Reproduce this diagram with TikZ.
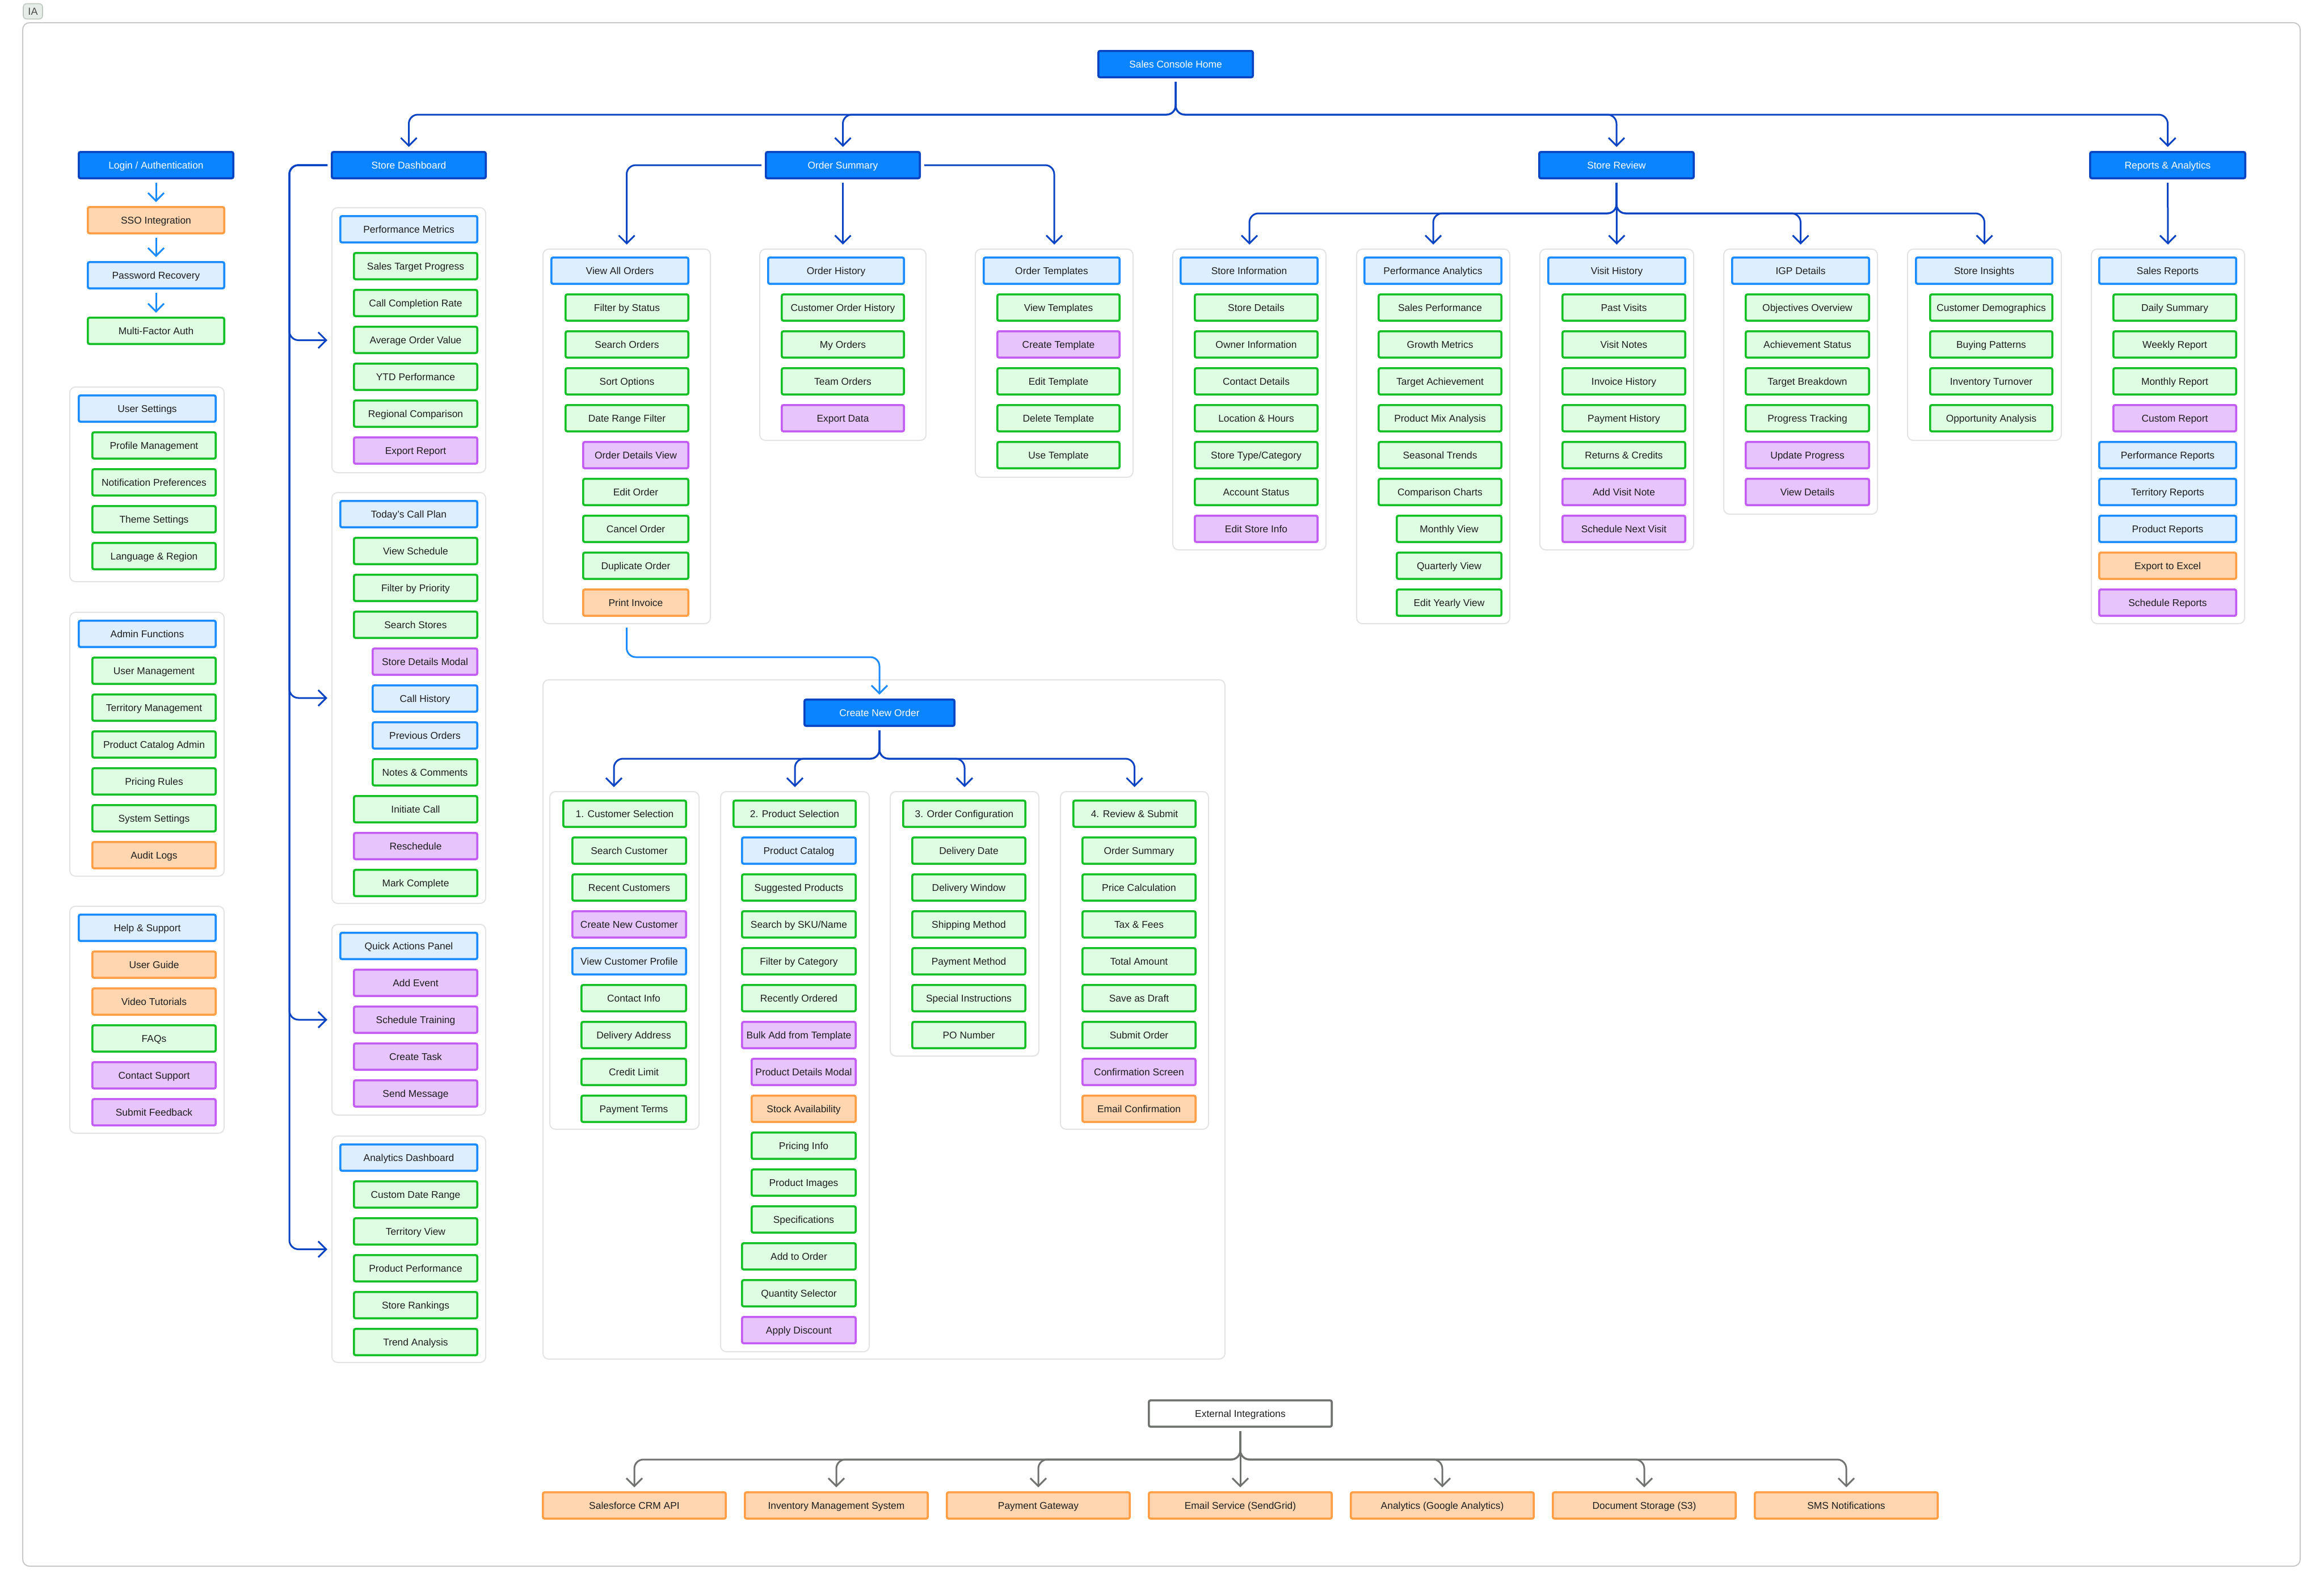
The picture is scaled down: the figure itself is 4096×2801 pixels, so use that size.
\documentclass[tikz,border=0pt]{standalone}
\usepackage{fontspec}
\setmainfont{Liberation Sans}
\usetikzlibrary{arrows.meta}
\definecolor{dkfill}{HTML}{0A84FF}
\definecolor{dkline}{HTML}{0B44C2}
\definecolor{lbfill}{HTML}{DDEEFF}
\definecolor{lbline}{HTML}{1A8CFF}
\definecolor{grfill}{HTML}{DFFDE3}
\definecolor{grline}{HTML}{14C026}
\definecolor{pufill}{HTML}{E8C4FD}
\definecolor{puline}{HTML}{C35CF2}
\definecolor{orfill}{HTML}{FFD6B0}
\definecolor{orline}{HTML}{FF9E45}
\definecolor{pnline}{HTML}{E3E3E3}
\definecolor{frline}{HTML}{C8C8C8}
\definecolor{gyline}{HTML}{707270}
\definecolor{txt}{HTML}{1E1E1E}
\definecolor{tagfill}{HTML}{E6ECE8}
\definecolor{tagline}{HTML}{BFC7C1}
\newcommand\mybox[6]{\node[#2, minimum width={(#4-#3)*0.5pt-1.8pt}] (#1) at ({(#3+#4)/2},{#5+25}) {#6};}
\newcommand\mypanel[5]{\node[panel, minimum width={(#3-#2)*0.5pt-1pt}, minimum height={(#5-#4)*0.5pt-1pt}] (#1) at ({(#2+#3)/2},{(#4+#5)/2}) {};}
\tikzset{
  box/.style={rectangle, rounded corners=1.5pt, line width=1.8pt, inner sep=0pt, minimum height=23.2pt, text height=6.2pt, text depth=0pt, font=\fontsize{8.7}{10}\selectfont, text=txt},
  dk/.style={box, fill=dkfill, draw=dkline, text=white},
  lb/.style={box, fill=lbfill, draw=lbline},
  gr/.style={box, fill=grfill, draw=grline},
  pu/.style={box, fill=pufill, draw=puline},
  og/.style={box, fill=orfill, draw=orline},
  wh/.style={box, fill=white, draw=gyline},
  panel/.style={rectangle, rounded corners=5pt, draw=pnline, line width=1pt, fill=white, inner sep=0pt},
  conn/.style={line width=1.5pt, draw=dkline, rounded corners=8pt, -{Straight Barb[length=7pt,width=14pt]}, shorten >=3.5pt, shorten <=3pt},
  connlb/.style={conn, draw=lbline},
  conngy/.style={conn, draw=gyline}
}
\begin{document}
\begin{tikzpicture}[x=0.5pt, y=-0.5pt]
\useasboundingbox (0,0) rectangle (4096,2801);
\draw[frline, line width=1pt, rounded corners=6pt] (40,40) rectangle (4054,2760);
\node[rectangle, rounded corners=3pt, fill=tagfill, draw=tagline, line width=0.8pt, minimum width=17pt, minimum height=13.5pt, inner sep=0pt, text=txt!80, font=\fontsize{9}{10}\selectfont] (ia) at (58,20) {IA};

% ---------- top ----------
\mybox{sch}{dk}{1934}{2210}{88}{Sales Console Home}

% ---------- login column ----------
\mybox{login}{dk}{137}{413}{266}{Login / Authentication}
\mybox{sso}{og}{153}{397}{363}{SSO Integration}
\mybox{pwd}{lb}{153}{397}{460}{Password Recovery}
\mybox{mfa}{gr}{153}{397}{558}{Multi-Factor Auth}

\mypanel{usp}{122}{396}{681}{1026}
\mybox{us0}{lb}{137}{382}{695}{User Settings}
\mybox{us1}{gr}{161}{382}{760}{Profile Management}
\mybox{us2}{gr}{161}{382}{825}{Notification Preferences}
\mybox{us3}{gr}{161}{382}{890}{Theme Settings}
\mybox{us4}{gr}{161}{382}{955}{Language \& Region}

\mypanel{afp}{122}{396}{1078}{1545}
\mybox{af0}{lb}{137}{382}{1092}{Admin Functions}
\mybox{af1}{gr}{161}{382}{1157}{User Management}
\mybox{af2}{gr}{161}{382}{1222}{Territory Management}
\mybox{af3}{gr}{161}{382}{1287}{Product Catalog Admin}
\mybox{af4}{gr}{161}{382}{1352}{Pricing Rules}
\mybox{af5}{gr}{161}{382}{1417}{System Settings}
\mybox{af6}{og}{161}{382}{1482}{Audit Logs}

\mypanel{hsp}{122}{396}{1596}{1998}
\mybox{hs0}{lb}{137}{382}{1610}{Help \& Support}
\mybox{hs1}{og}{161}{382}{1675}{User Guide}
\mybox{hs2}{og}{161}{382}{1740}{Video Tutorials}
\mybox{hs3}{gr}{161}{382}{1805}{FAQs}
\mybox{hs4}{pu}{161}{382}{1870}{Contact Support}
\mybox{hs5}{pu}{161}{382}{1935}{Submit Feedback}

% ---------- store dashboard ----------
\mybox{sd}{dk}{583}{858}{266}{Store Dashboard}
\mypanel{sdp1}{584}{857}{365}{834}
\mybox{pm0}{lb}{598}{843}{379}{Performance Metrics}
\mybox{pm1}{gr}{622}{843}{444}{Sales Target Progress}
\mybox{pm2}{gr}{622}{843}{509}{Call Completion Rate}
\mybox{pm3}{gr}{622}{843}{574}{Average Order Value}
\mybox{pm4}{gr}{622}{843}{639}{YTD Performance}
\mybox{pm5}{gr}{622}{843}{704}{Regional Comparison}
\mybox{pm6}{pu}{622}{843}{769}{Export Report}

\mypanel{sdp2}{584}{857}{867}{1593}
\mybox{cp0}{lb}{598}{843}{881}{Today's Call Plan}
\mybox{cp1}{gr}{622}{843}{946}{View Schedule}
\mybox{cp2}{gr}{622}{843}{1011}{Filter by Priority}
\mybox{cp3}{gr}{622}{843}{1076}{Search Stores}
\mybox{cp4}{pu}{655}{843}{1141}{Store Details Modal}
\mybox{cp5}{lb}{655}{843}{1206}{Call History}
\mybox{cp6}{lb}{655}{843}{1271}{Previous Orders}
\mybox{cp7}{gr}{655}{843}{1336}{Notes \& Comments}
\mybox{cp8}{gr}{622}{843}{1401}{Initiate Call}
\mybox{cp9}{pu}{622}{843}{1466}{Reschedule}
\mybox{cp10}{gr}{622}{843}{1531}{Mark Complete}

\mypanel{sdp3}{584}{857}{1628}{1966}
\mybox{qa0}{lb}{598}{843}{1642}{Quick Actions Panel}
\mybox{qa1}{pu}{622}{843}{1707}{Add Event}
\mybox{qa2}{pu}{622}{843}{1772}{Schedule Training}
\mybox{qa3}{pu}{622}{843}{1837}{Create Task}
\mybox{qa4}{pu}{622}{843}{1902}{Send Message}

\mypanel{sdp4}{584}{857}{2001}{2402}
\mybox{ad0}{lb}{598}{843}{2015}{Analytics Dashboard}
\mybox{ad1}{gr}{622}{843}{2080}{Custom Date Range}
\mybox{ad2}{gr}{622}{843}{2145}{Territory View}
\mybox{ad3}{gr}{622}{843}{2210}{Product Performance}
\mybox{ad4}{gr}{622}{843}{2275}{Store Rankings}
\mybox{ad5}{gr}{622}{843}{2340}{Trend Analysis}

% ---------- order summary ----------
\mybox{os}{dk}{1348}{1623}{266}{Order Summary}
\mypanel{vaop}{956}{1253}{438}{1100}
\mybox{va0}{lb}{970}{1215}{452}{View All Orders}
\mybox{va1}{gr}{995}{1215}{517}{Filter by Status}
\mybox{va2}{gr}{995}{1215}{582}{Search Orders}
\mybox{va3}{gr}{995}{1215}{647}{Sort Options}
\mybox{va4}{gr}{995}{1215}{712}{Date Range Filter}
\mybox{va5}{pu}{1026}{1215}{777}{Order Details View}
\mybox{va6}{gr}{1026}{1215}{842}{Edit Order}
\mybox{va7}{gr}{1026}{1215}{907}{Cancel Order}
\mybox{va8}{gr}{1026}{1215}{972}{Duplicate Order}
\mybox{va9}{og}{1026}{1215}{1037}{Print Invoice}

\mypanel{ohp}{1338}{1633}{438}{777}
\mybox{oh0}{lb}{1352}{1595}{452}{Order History}
\mybox{oh1}{gr}{1376}{1595}{517}{Customer Order History}
\mybox{oh2}{gr}{1376}{1595}{582}{My Orders}
\mybox{oh3}{gr}{1376}{1595}{647}{Team Orders}
\mybox{oh4}{pu}{1376}{1595}{712}{Export Data}

\mypanel{otp}{1718}{1998}{438}{842}
\mybox{ot0}{lb}{1732}{1975}{452}{Order Templates}
\mybox{ot1}{gr}{1756}{1975}{517}{View Templates}
\mybox{ot2}{pu}{1756}{1975}{582}{Create Template}
\mybox{ot3}{gr}{1756}{1975}{647}{Edit Template}
\mybox{ot4}{gr}{1756}{1975}{712}{Delete Template}
\mybox{ot5}{gr}{1756}{1975}{777}{Use Template}

% ---------- create new order ----------
\mypanel{cnop}{956}{2160}{1197}{2396}
\mybox{cno}{dk}{1416}{1684}{1231}{Create New Order}

\mypanel{csp}{968}{1233}{1394}{1991}
\mybox{cs0}{gr}{991}{1211}{1409}{1. Customer Selection}
\mybox{cs1}{gr}{1007}{1211}{1474}{Search Customer}
\mybox{cs2}{gr}{1007}{1211}{1539}{Recent Customers}
\mybox{cs3}{pu}{1007}{1211}{1604}{Create New Customer}
\mybox{cs4}{lb}{1007}{1211}{1669}{View Customer Profile}
\mybox{cs5}{gr}{1023}{1211}{1734}{Contact Info}
\mybox{cs6}{gr}{1023}{1211}{1799}{Delivery Address}
\mybox{cs7}{gr}{1023}{1211}{1864}{Credit Limit}
\mybox{cs8}{gr}{1023}{1211}{1929}{Payment Terms}

\mypanel{psp}{1269}{1533}{1394}{2383}
\mybox{ps0}{gr}{1291}{1510}{1409}{2. Product Selection}
\mybox{ps1}{lb}{1306}{1510}{1474}{Product Catalog}
\mybox{ps2}{gr}{1306}{1510}{1539}{Suggested Products}
\mybox{ps3}{gr}{1306}{1510}{1604}{Search by SKU/Name}
\mybox{ps4}{gr}{1306}{1510}{1669}{Filter by Category}
\mybox{ps5}{gr}{1306}{1510}{1734}{Recently Ordered}
\mybox{ps6}{pu}{1306}{1510}{1799}{Bulk Add from Template}
\mybox{ps7}{pu}{1323}{1510}{1864}{Product Details Modal}
\mybox{ps8}{og}{1323}{1510}{1929}{Stock Availability}
\mybox{ps9}{gr}{1323}{1510}{1994}{Pricing Info}
\mybox{ps10}{gr}{1323}{1510}{2059}{Product Images}
\mybox{ps11}{gr}{1323}{1510}{2124}{Specifications}
\mybox{ps12}{gr}{1306}{1510}{2189}{Add to Order}
\mybox{ps13}{gr}{1306}{1510}{2254}{Quantity Selector}
\mybox{ps14}{pu}{1306}{1510}{2319}{Apply Discount}

\mypanel{ocp}{1568}{1832}{1394}{1862}
\mybox{oc0}{gr}{1590}{1809}{1409}{3. Order Configuration}
\mybox{oc1}{gr}{1606}{1809}{1474}{Delivery Date}
\mybox{oc2}{gr}{1606}{1809}{1539}{Delivery Window}
\mybox{oc3}{gr}{1606}{1809}{1604}{Shipping Method}
\mybox{oc4}{gr}{1606}{1809}{1669}{Payment Method}
\mybox{oc5}{gr}{1606}{1809}{1734}{Special Instructions}
\mybox{oc6}{gr}{1606}{1809}{1799}{PO Number}

\mypanel{rsp}{1868}{2131}{1394}{1991}
\mybox{rs0}{gr}{1890}{2109}{1409}{4. Review \& Submit}
\mybox{rs1}{gr}{1906}{2109}{1474}{Order Summary}
\mybox{rs2}{gr}{1906}{2109}{1539}{Price Calculation}
\mybox{rs3}{gr}{1906}{2109}{1604}{Tax \& Fees}
\mybox{rs4}{gr}{1906}{2109}{1669}{Total Amount}
\mybox{rs5}{gr}{1906}{2109}{1734}{Save as Draft}
\mybox{rs6}{gr}{1906}{2109}{1799}{Submit Order}
\mybox{rs7}{pu}{1906}{2109}{1864}{Confirmation Screen}
\mybox{rs8}{og}{1906}{2109}{1929}{Email Confirmation}

% ---------- store review ----------
\mybox{sr}{dk}{2711}{2987}{266}{Store Review}
\mypanel{sip}{2066}{2338}{438}{970}
\mybox{si0}{lb}{2079}{2324}{452}{Store Information}
\mybox{si1}{gr}{2104}{2324}{517}{Store Details}
\mybox{si2}{gr}{2104}{2324}{582}{Owner Information}
\mybox{si3}{gr}{2104}{2324}{647}{Contact Details}
\mybox{si4}{gr}{2104}{2324}{712}{Location \& Hours}
\mybox{si5}{gr}{2104}{2324}{777}{Store Type/Category}
\mybox{si6}{gr}{2104}{2324}{842}{Account Status}
\mybox{si7}{pu}{2104}{2324}{907}{Edit Store Info}

\mypanel{pap}{2390}{2662}{438}{1100}
\mybox{pa0}{lb}{2403}{2648}{452}{Performance Analytics}
\mybox{pa1}{gr}{2428}{2648}{517}{Sales Performance}
\mybox{pa2}{gr}{2428}{2648}{582}{Growth Metrics}
\mybox{pa3}{gr}{2428}{2648}{647}{Target Achievement}
\mybox{pa4}{gr}{2428}{2648}{712}{Product Mix Analysis}
\mybox{pa5}{gr}{2428}{2648}{777}{Seasonal Trends}
\mybox{pa6}{gr}{2428}{2648}{842}{Comparison Charts}
\mybox{pa7}{gr}{2460}{2648}{907}{Monthly View}
\mybox{pa8}{gr}{2460}{2648}{972}{Quarterly View}
\mybox{pa9}{gr}{2460}{2648}{1037}{Edit Yearly View}

\mypanel{vhp}{2713}{2986}{438}{970}
\mybox{vh0}{lb}{2727}{2972}{452}{Visit History}
\mybox{vh1}{gr}{2752}{2972}{517}{Past Visits}
\mybox{vh2}{gr}{2752}{2972}{582}{Visit Notes}
\mybox{vh3}{gr}{2752}{2972}{647}{Invoice History}
\mybox{vh4}{gr}{2752}{2972}{712}{Payment History}
\mybox{vh5}{gr}{2752}{2972}{777}{Returns \& Credits}
\mybox{vh6}{pu}{2752}{2972}{842}{Add Visit Note}
\mybox{vh7}{pu}{2752}{2972}{907}{Schedule Next Visit}

\mypanel{igpp}{3037}{3310}{438}{907}
\mybox{ig0}{lb}{3051}{3296}{452}{IGP Details}
\mybox{ig1}{gr}{3075}{3296}{517}{Objectives Overview}
\mybox{ig2}{gr}{3075}{3296}{582}{Achievement Status}
\mybox{ig3}{gr}{3075}{3296}{647}{Target Breakdown}
\mybox{ig4}{gr}{3075}{3296}{712}{Progress Tracking}
\mybox{ig5}{pu}{3075}{3296}{777}{Update Progress}
\mybox{ig6}{pu}{3075}{3296}{842}{View Details}

\mypanel{sinp}{3361}{3634}{438}{777}
\mybox{sn0}{lb}{3375}{3619}{452}{Store Insights}
\mybox{sn1}{gr}{3400}{3619}{517}{Customer Demographics}
\mybox{sn2}{gr}{3400}{3619}{582}{Buying Patterns}
\mybox{sn3}{gr}{3400}{3619}{647}{Inventory Turnover}
\mybox{sn4}{gr}{3400}{3619}{712}{Opportunity Analysis}

% ---------- reports ----------
\mybox{ra}{dk}{3682}{3959}{266}{Reports \& Analytics}
\mypanel{rpp}{3685}{3957}{438}{1100}
\mybox{rp0}{lb}{3698}{3943}{452}{Sales Reports}
\mybox{rp1}{gr}{3723}{3943}{517}{Daily Summary}
\mybox{rp2}{gr}{3723}{3943}{582}{Weekly Report}
\mybox{rp3}{gr}{3723}{3943}{647}{Monthly Report}
\mybox{rp4}{pu}{3723}{3943}{712}{Custom Report}
\mybox{rp5}{lb}{3698}{3943}{777}{Performance Reports}
\mybox{rp6}{lb}{3698}{3943}{842}{Territory Reports}
\mybox{rp7}{lb}{3698}{3943}{907}{Product Reports}
\mybox{rp8}{og}{3698}{3943}{972}{Export to Excel}
\mybox{rp9}{pu}{3698}{3943}{1037}{Schedule Reports}

% ---------- external ----------
\mybox{ext}{wh}{2023}{2349}{2466}{External Integrations}
\mybox{e1}{og}{955}{1281}{2628}{Salesforce CRM API}
\mybox{e2}{og}{1311}{1637}{2628}{Inventory Management System}
\mybox{e3}{og}{1667}{1993}{2628}{Payment Gateway}
\mybox{e4}{og}{2023}{2349}{2628}{Email Service (SendGrid)}
\mybox{e5}{og}{2379}{2705}{2628}{Analytics (Google Analytics)}
\mybox{e6}{og}{2735}{3061}{2628}{Document Storage (S3)}
\mybox{e7}{og}{3091}{3417}{2628}{SMS Notifications}

% ---------- connectors ----------
\coordinate (busA) at (0,202);
\coordinate (trunk) at (510,0);
\coordinate (busB) at (0,376);
\coordinate (busC) at (0,1158);
\coordinate (busD) at (0,1337);
\coordinate (busE) at (0,2572);
\coordinate (csin) at (1082,1394);

\foreach \t in {sd,os,sr,ra} \draw[conn] (sch.south) -- (sch.south |- busA) -| (\t.north);
\foreach \t in {sdp1,sdp2,sdp3,sdp4} \draw[conn] (sd.west) -- (sd.west -| trunk) |- (\t.west);
\draw[conn] (os.west) -| (vaop.north);
\draw[conn] (os.south) -- (ohp.north);
\draw[conn] (os.east) -| (otp.north);
\foreach \t in {sip,pap,igpp,sinp} \draw[conn] (sr.south) -- (sr.south |- busB) -| (\t.north);
\draw[conn] (sr.south) -- (vhp.north);
\draw[conn] (ra.south) -- (rpp.north);
\draw[connlb] (vaop.south) -- (vaop.south |- busC) -| (cno.north);
\draw[conn] (cno.south) -- (cno.south |- busD) -| (csin);
\foreach \t in {psp,ocp,rsp} \draw[conn] (cno.south) -- (cno.south |- busD) -| (\t.north);
\draw[connlb] (login.south) -- (sso.north);
\draw[connlb] (sso.south) -- (pwd.north);
\draw[connlb] (pwd.south) -- (mfa.north);
\foreach \t in {e1,e2,e3,e5,e6,e7} \draw[conngy] (ext.south) -- (ext.south |- busE) -| (\t.north);
\draw[conngy] (ext.south) -- (e4.north);
\end{tikzpicture}
\end{document}
